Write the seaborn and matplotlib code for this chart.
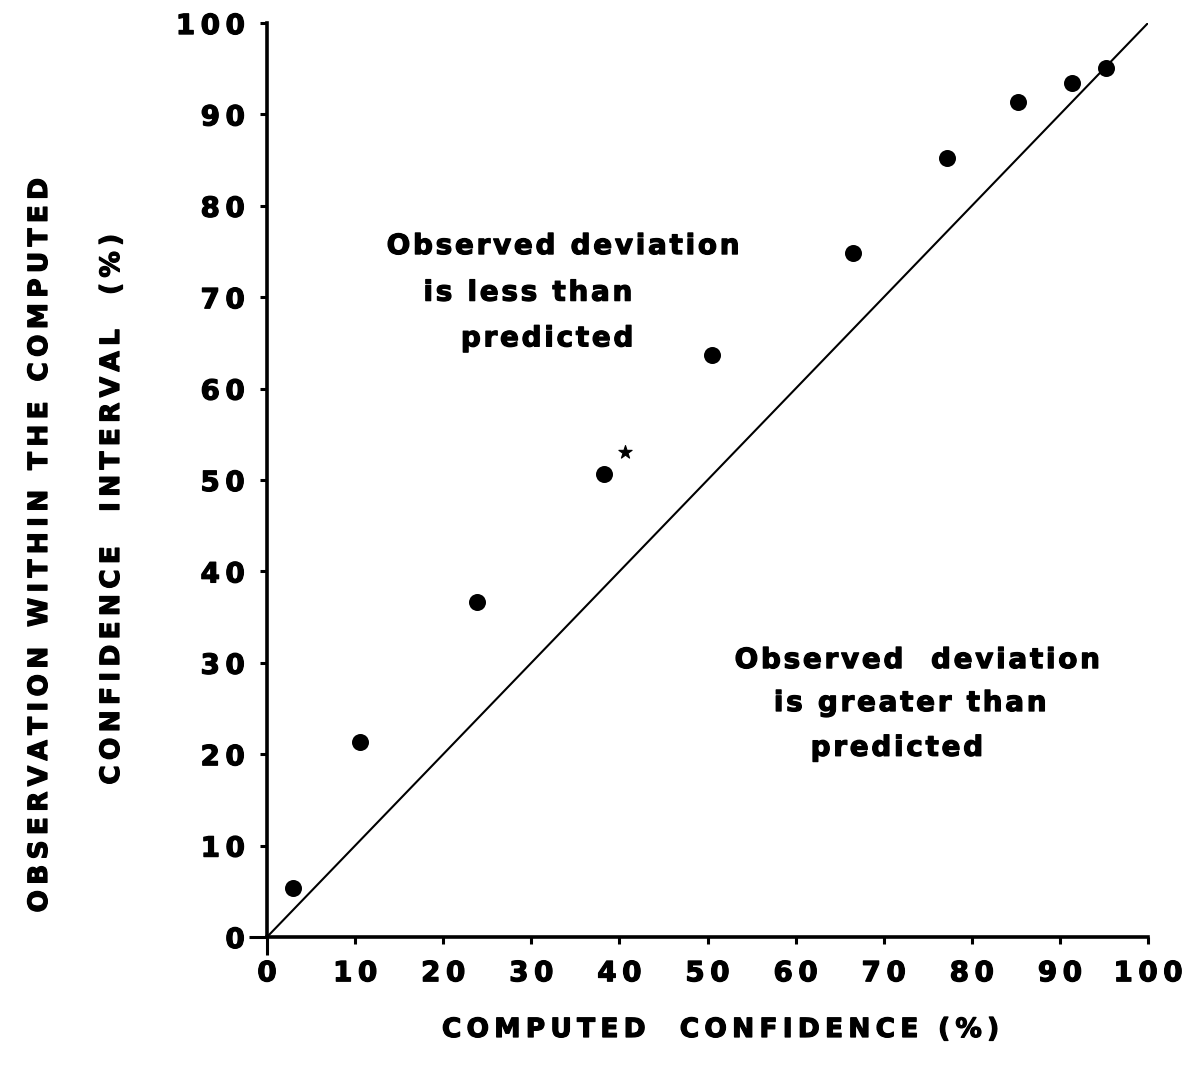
import matplotlib
matplotlib.use("Agg")
import matplotlib.pyplot as plt
import matplotlib.patheffects as pe
import seaborn as sns
import numpy as np
import pandas as pd

# Computed confidence level vs. share of observations inside the interval (%)
computed = [3.0, 10.6, 23.8, 38.3, 50.5, 66.5, 77.2, 85.2, 91.4, 95.2]
observed = [5.4, 21.3, 36.7, 50.7, 63.7, 74.8, 85.2, 91.4, 93.4, 95.1]
starred_x = [40.6]
starred_y = [53.1]
diagonal = [0, 100]
ticks = [0, 10, 20, 30, 40, 50, 60, 70, 80, 90, 100]

HAIR = "\u200a"
THIN = "\u2009"
HEAVY = [pe.withStroke(linewidth=0.9, foreground="black")]


def spaced(s, sep=HAIR):
    """Widen the tracking of a string by putting a narrow space between letters."""
    return sep.join(s)


sns.set_theme(style="ticks")
plt.rcParams["font.family"] = ["DejaVu Sans"]
plt.rcParams["font.weight"] = "bold"

fig = plt.figure(figsize=(11.9, 10.77), dpi=100)
ax = fig.add_axes([0.2244, 0.13, 0.7403, 0.8486])

df = pd.DataFrame({"computed": computed, "observed": observed})
sns.lineplot(x=diagonal, y=diagonal, ax=ax, color="black", linewidth=1.5)
sns.scatterplot(data=df, x="computed", y="observed", ax=ax, color="black",
                s=150, edgecolor="black", linewidth=0)
sns.scatterplot(x=starred_x, y=starred_y, ax=ax, marker="*", color="black",
                s=100, edgecolor="black", linewidth=0.8)

ax.set_xlim(0, 100)
ax.set_ylim(0, 100)
ax.set_xticks(ticks)
ax.set_yticks(ticks)
ax.set_xticklabels([spaced(str(t), THIN) for t in ticks], fontsize=20, fontweight="bold")
ax.set_yticklabels([spaced(str(t), THIN) for t in ticks], fontsize=20, fontweight="bold")
ax.tick_params(axis="both", direction="out", length=5, width=2.2, color="black")
ax.tick_params(axis="x", pad=11)
ax.tick_params(axis="y", pad=11)
# longer ticks at the origin so both axes appear to cross
ax.xaxis.get_major_ticks()[0].tick1line.set_markersize(13)
ax.yaxis.get_major_ticks()[0].tick1line.set_markersize(13)
for t in ax.get_xticklabels() + ax.get_yticklabels():
    t.set_color("black")
    t.set_path_effects(HEAVY)

for side in ("top", "right"):
    ax.spines[side].set_visible(False)
for side in ("left", "bottom"):
    ax.spines[side].set_linewidth(2.6)
    ax.spines[side].set_color("black")
ax.set_xlabel("")
ax.set_ylabel("")

txt = dict(fontsize=20, fontweight="bold", color="black", ha="center", va="center",
           path_effects=HEAVY)
ax.text(33.6, 75.6, spaced("Observed deviation"), **txt)
ax.text(29.6, 70.5, spaced("is less than"), **txt)
ax.text(31.8, 65.5, spaced("predicted"), **txt)
ax.text(73.8, 30.3, spaced("Observed  deviation"), **txt)
ax.text(73.0, 25.6, spaced("is greater than"), **txt)
ax.text(71.5, 20.7, spaced("predicted"), **txt)

lab = dict(fontsize=19, fontweight="bold", color="black", ha="center", va="center",
           path_effects=HEAVY)
fig.text(720 / 1190, 1 - 1030 / 1077, spaced("COMPUTED  CONFIDENCE (%)", THIN), **lab)
fig.text(40 / 1190, 1 - 546 / 1077, spaced("OBSERVATION WITHIN THE COMPUTED", THIN),
         rotation=90, **lab)
fig.text(112 / 1190, 1 - 510 / 1077, spaced("CONFIDENCE  INTERVAL  (%)", THIN),
         rotation=90, **lab)

fig.savefig("out.png", dpi=100, facecolor="white")
